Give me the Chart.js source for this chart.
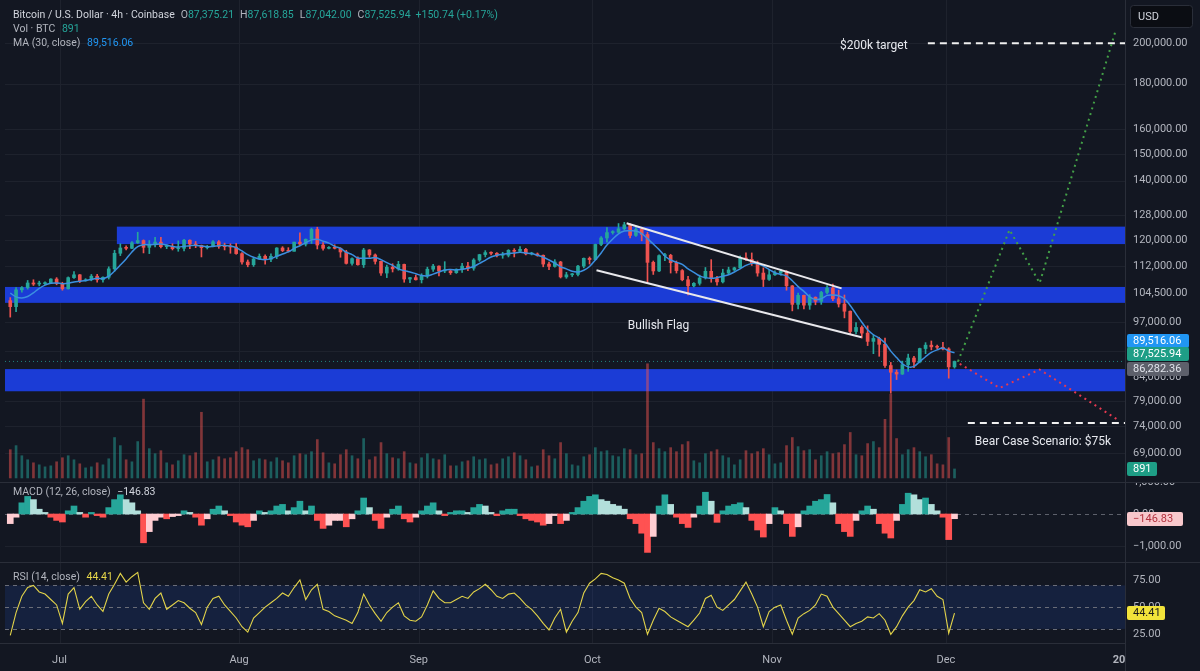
<!DOCTYPE html>
<html>
<head>
<meta charset="utf-8">
<script src="https://cdn.jsdelivr.net/npm/chart.js@4.4.1/dist/chart.umd.min.js"></script>
<style>
  html, body { margin:0; padding:0; background:#131722; }
  body { width:1200px; height:671px; position:relative; overflow:hidden; font-family: Roboto, "Noto Sans", Arial, sans-serif; }
  canvas { position:absolute; left:0; }
  .txt { position:absolute; white-space:nowrap; font-size:10.5px; color:#b2b5be; line-height:12px; }
  .w { color:#d1d4dc; }
  .k { margin-left:6px; }
  .g { color:#26a69a; }
  .b { color:#2196f3; }
  .y { color:#e8d84a; }
  .sep { position:absolute; background:#2a2e39; }
</style>
</head>
<body>
<canvas id="main" width="1200" height="482" style="top:0"></canvas>
<canvas id="macd" width="1200" height="79" style="top:483px"></canvas>
<canvas id="rsi" width="1200" height="108" style="top:563px"></canvas>
<div class="sep" style="left:0;top:482px;width:1200px;height:1px"></div>
<div class="sep" style="left:0;top:562px;width:1200px;height:1px"></div>
<div class="sep" style="left:0;top:643px;width:1126px;height:1px"></div>
<div class="sep" style="left:1125px;top:0;width:1px;height:671px"></div>

<div class="txt" style="left:13px;top:9px"><span class="w">Bitcoin / U.S. Dollar · 4h · Coinbase</span><span class="k">O</span><span class="g">87,375.21</span><span class="k">H</span><span class="g">87,618.85</span><span class="k">L</span><span class="g">87,042.00</span><span class="k">C</span><span class="g">87,525.94</span><span class="g" style="margin-left:5px">+150.74 (+0.17%)</span></div>
<div class="txt" style="left:13px;top:23px">Vol · BTC <span class="g" style="margin-left:4px">891</span></div>
<div class="txt" style="left:13px;top:37px">MA (30, close) <span class="b" style="margin-left:4px">89,516.06</span></div>
<div class="txt" style="left:13px;top:486px">MACD (12, 26, close) <span class="w" style="margin-left:4px">−146.83</span></div>
<div class="txt" style="left:13px;top:571px">RSI (14, close) <span class="y" style="margin-left:4px">44.41</span></div>

<script>
// ---------------- DATA ----------------
const startDay = -9;          // first candle: Jun 22 (day 0 = Jul 1)
const firstOpenK = 102.5;     // open of first candle (thousand USD)

// daily closes, thousand USD (Jun 22 .. Dec 2)
const closesK = [
100.9,105.4,106.0,107.3,107.0,107.1,107.3,108.4,107.1,
105.7,108.8,109.6,107.9,108.2,109.2,108.2,108.9,111.3,115.9,
117.5,117.4,119.1,119.8,117.7,118.7,119.3,117.9,117.9,117.3,
117.4,119.9,118.7,118.3,117.6,117.9,119.4,118.0,117.9,117.8,115.8,
113.3,112.5,114.2,115.0,114.1,115.0,117.5,116.7,116.5,119.3,
118.7,120.2,123.3,118.4,117.4,117.5,117.4,116.3,112.9,114.3,
112.5,116.9,115.4,113.5,110.1,111.8,111.3,112.6,108.4,108.8,108.2,
109.2,111.2,112.1,110.7,110.7,110.2,111.2,112.1,111.5,113.9,
115.5,116.1,115.9,115.3,115.3,116.8,116.5,117.1,115.7,115.7,
115.3,112.7,112.0,113.3,109.0,109.6,109.7,112.1,114.4,114.0,
118.6,120.6,122.3,122.4,123.5,124.8,121.4,123.3,121.7,113.2,
110.7,115.2,115.3,113.1,110.8,108.2,106.5,107.2,108.7,110.6,
108.5,107.6,110.1,111.0,111.6,114.5,114.1,112.9,110.1,108.3,109.6,
110.1,110.6,106.5,101.5,103.9,101.3,103.4,102.3,104.7,105.9,
103.0,101.6,99.7,94.6,95.6,94.2,92.2,92.9,91.5,86.6,
85.1,84.7,86.8,88.3,87.4,90.5,91.3,90.9,90.8,90.4,
86.3,87.52594
];

// daily highs, thousand USD
const highsK = [
103.3,106.0,106.3,108.0,108.2,107.8,107.6,108.5,108.8,
107.5,109.0,110.5,109.7,108.5,109.7,109.7,109.0,111.9,116.8,
118.8,118.2,119.5,122.4,120.0,119.8,120.8,120.8,118.5,118.8,
119.7,120.2,120.0,119.5,118.4,118.3,119.8,119.8,119.0,118.8,118.9,
116.1,113.9,114.7,115.7,115.4,115.7,117.6,117.9,117.6,119.3,
122.2,120.3,123.7,124.0,119.2,117.9,118.5,117.6,116.8,114.5,
114.8,117.4,117.0,115.7,113.6,112.4,112.8,113.5,112.7,108.9,109.5,
109.9,111.8,112.6,112.2,113.4,111.0,111.3,112.9,113.2,114.3,
115.6,116.7,116.3,116.1,116.2,117.0,117.3,117.9,117.4,116.2,
116.0,115.4,113.3,114.0,113.5,110.3,110.0,112.3,114.5,114.8,
118.7,121.0,123.9,122.9,125.2,125.6,125.1,124.2,123.7,122.4,
113.6,115.4,115.9,115.6,113.6,111.1,109.2,107.4,109.5,111.7,
114.0,109.2,111.2,111.8,111.8,115.1,116.0,116.0,113.6,111.6,111.2,
110.7,111.2,110.8,106.6,104.5,104.0,104.1,103.5,105.0,106.6,
107.0,105.3,104.0,99.8,96.8,96.0,96.0,93.8,93.2,93.0,
87.3,85.6,87.6,89.2,88.7,90.6,91.9,92.3,91.3,92.0,
90.7,87.62
];

// daily lows, thousand USD
const lowsK = [
98.2,99.6,104.8,105.6,106.6,106.5,106.8,107.2,106.8,
105.3,105.6,108.6,107.4,107.8,107.9,107.5,107.5,108.4,110.6,
115.2,116.9,117.3,118.9,116.0,115.8,117.8,117.5,117.3,116.9,
116.5,116.6,117.3,117.6,114.8,117.2,117.8,117.4,116.9,115.9,115.6,
112.7,111.9,112.0,114.0,112.7,113.4,114.3,116.4,116.3,116.5,
118.3,118.1,118.9,117.2,116.8,117.2,117.2,114.7,112.7,112.4,
112.4,111.7,114.7,112.7,109.4,108.8,110.4,110.9,107.5,107.4,108.1,
107.3,108.7,110.6,109.3,110.2,109.7,110.0,110.3,110.8,110.9,
113.5,114.8,115.4,114.8,114.4,114.8,114.8,116.1,115.4,115.4,
115.0,111.9,111.1,111.8,108.7,108.6,109.1,109.3,111.6,112.7,
113.9,118.2,119.3,121.8,122.2,123.1,120.6,121.1,119.7,107.4,
109.7,110.5,113.7,110.1,110.1,107.9,104.0,106.2,106.7,108.4,
107.5,106.7,107.3,109.7,110.8,111.5,113.8,112.3,109.2,106.3,108.0,
109.4,109.5,105.3,99.8,100.3,100.3,100.2,101.4,101.5,104.3,
102.5,100.8,98.0,94.0,94.0,93.0,91.2,89.3,88.7,86.2,
80.6,83.5,84.6,85.3,86.1,87.2,89.3,90.2,90.4,90.2,
83.8,86.0
];

// MA(30, close) line, thousand USD
const maK = [
104.5,103.5,103.2,103.6,104.6,105.8,106.7,107.2,107.3,
107.1,107.2,107.6,107.8,108.0,108.3,108.6,108.5,109.2,110.7,
112.4,114.2,116.3,117.9,118.5,118.5,118.6,118.7,118.4,118.0,
117.8,118.0,118.2,118.3,118.1,117.9,118.0,118.2,118.3,118.1,117.6,
116.6,115.5,114.7,114.2,114.0,114.3,115.0,115.7,116.3,117.4,
118.2,119.1,120.0,120.2,119.6,119.0,118.0,117.4,116.2,115.5,
114.5,114.4,114.4,114.6,114.0,113.1,112.3,111.3,110.8,110.4,109.9,
109.4,109.3,109.8,110.4,111.0,111.1,111.0,111.2,111.5,112.0,
112.9,113.8,114.8,115.3,115.6,115.8,116.0,116.2,116.0,115.8,
115.3,114.7,113.9,113.0,111.9,111.3,110.6,110.4,110.9,112.0,
113.9,116.0,118.4,120.3,121.9,122.8,122.9,122.8,122.0,120.4,
118.7,117.0,115.1,113.9,113.2,112.6,111.3,110.3,109.3,108.8,
108.6,108.8,109.2,109.6,110.4,111.3,112.3,112.9,112.8,112.1,111.1,
110.2,109.7,109.3,107.9,106.3,105.0,103.5,102.8,103.0,103.9,
104.0,103.8,103.0,101.2,99.0,96.9,95.0,93.8,93.0,91.8,
89.9,88.4,87.0,86.3,86.4,87.5,88.6,89.6,90.2,90.6,
89.9,89.51606
];

// volume (BTC)
const volumes = [
2800,3200,2200,1800,1500,1300,1100,1200,1600,
2000,2200,1800,1400,1000,1100,1500,1300,1900,4000,
3200,1800,1600,3600,7800,2900,2400,2700,1500,1300,
1700,2300,2200,2500,6500,1600,1800,2100,1900,2000,2600,
3000,2800,1700,1900,1800,1600,2000,1700,1500,2200,
2400,2300,2600,3800,2500,1500,1400,2300,2800,2200,
1900,3900,1800,2100,3500,2400,2000,1900,2600,1500,1400,
2000,2400,1900,1800,2300,1200,1200,1600,1700,2100,
1800,1900,1300,1400,1900,2100,2500,2200,1800,1100,
1200,2800,2200,1900,3500,2400,1300,1200,2100,2300,
3000,2600,2700,2200,2100,2900,2800,2300,2400,11300,
3500,2900,2600,3000,2600,3300,3600,1700,1500,2400,
2600,2800,2200,2000,1300,1800,2700,2400,2600,2900,2300,
1400,1500,3200,4000,3100,2700,2800,1800,2200,2600,
2400,2500,3300,4500,2300,2200,3400,3600,3000,5800,
8300,3900,2300,2800,3000,2600,2100,2300,1400,1300,
4000,891
];

// MACD histogram
const macdHist = [
-300,-100,350,550,450,150,50,-100,-200,
-250,100,250,50,-100,50,-50,-100,200,450,
600,450,350,100,-900,-550,-200,-100,-150,-80,
-50,100,50,-100,-350,-150,150,250,100,-50,-250,
-350,-400,-200,100,50,100,250,300,100,200,
400,100,250,-200,-450,-350,-200,-200,-400,-150,
100,500,200,-200,-450,-100,150,250,-150,-250,-100,
100,250,350,100,-50,50,100,100,50,200,
300,250,50,-50,100,150,150,-50,-150,-200,
-250,-350,-300,-50,-300,-200,50,200,400,550,
600,450,400,300,250,150,-150,-300,-600,-1200,
-700,250,600,300,-100,-300,-420,-100,250,680,
400,-260,100,250,300,350,200,-200,-500,-720,-300,
200,100,-300,-700,-400,100,250,400,450,610,
350,-300,-550,-700,-200,100,250,150,-300,-600,
-750,-200,300,650,600,450,500,300,100,-100,
-800,-146.83
];

// RSI(14)
const rsiValues = [
24,45,60,68,70,64,62,57,52,
35,62,68,48,55,60,52,46,62,71,
81,73,78,82,54,48,58,63,48,52,
56,54,49,45,34,50,58,60,52,46,40,
32,27,40,45,50,54,58,63,60,68,
75,57,66,71,48,46,42,40,38,35,
45,62,52,44,37,45,50,54,42,38,37,
41,52,65,58,54,54,57,60,58,64,
67,71,66,60,58,62,63,58,52,48,
42,35,29,40,48,27,37,45,63,72,
76,81,80,77,75,72,58,50,45,25,
38,49,46,41,38,35,32,38,44.6,58,
61,50,47,52,57,65,73,62,50,32,46,
50,52,38,25,40,44,47,52,62,60,
50,44,38,32,35,37,41,40,44,38,
25,32,42,50,56,66,64,67,60,57,
26,44.41
];

// axis ticks
const monthDays   = [0,31,62,92,123,153,184];
const monthLabels = ['Jul','Aug','Sep','Oct','Nov','Dec','20'];
const priceTicks  = [69000,74000,79000,84000,90000,97000,104500,112000,120000,128000,140000,150000,160000,180000,200000];
const macdTicks   = [1000,0,-1000];
const rsiTicks    = [75,50,25];

// drawn levels / annotations (thousand USD, days)
const zones = [
  {lowK:118.7, highK:124.2, fromDay:9.9},
  {lowK:101.9, highK:106.2, fromDay:null},
  {lowK:81.0,  highK:85.8,  fromDay:null}
];
const flagUpperDays = [97.9, 135.0],  flagUpperK = [125.3, 105.8];
const flagLowerDays = [92.7, 138.45], flagLowerK = [110.9, 93.2];
const bullPathDays  = [155.1, 164.0, 169.2, 182.2], bullPathK = [87.5, 123.2, 107.3, 205.5];
const bearPathDays  = [155.4, 162.3, 169.2, 182.7], bearPathK = [87.0, 81.7, 85.7, 75.2];
const targetK = 200, targetFromDay = 149.9;
const bearK = 74.6, bearFromDay = 156.8;
const lastPrice = 87525.94, maLast = 89516.06, refLevel = 86282.36;
const lastVolume = 891, lastMacd = -146.83, lastRsi = 44.41;

// ---------------- BUILD ----------------
const X_MIN = -9.41, X_MAX = 183.93;
const UP = '#26a69a', DOWN = '#ef5350';
const days = closesK.map((_, i) => startDay + i);
const opensK = closesK.map((c, i) => i === 0 ? firstOpenK : closesK[i - 1]);
const isUp = i => closesK[i] >= opensK[i];
const toPts = (ds, vs, k) => ds.map((d, i) => ({x: d, y: vs[i] * k}));

Chart.defaults.font.family = 'Roboto, "Noto Sans", Arial, sans-serif';
const fmt = v => (v < 0 ? '−' : '') + Math.abs(v).toLocaleString('en-US', {minimumFractionDigits:2, maximumFractionDigits:2});

function xScale() { return {type:'linear', min:X_MIN, max:X_MAX, display:false, offset:false}; }
const baseOpts = {
  responsive:false, animation:false, events:[], devicePixelRatio:1,
  layout:{padding:{left:5, right:75, top:0, bottom:0}},
  plugins:{legend:{display:false}, tooltip:{enabled:false}}
};

function hLine(ctx, x0, x1, y) { ctx.beginPath(); ctx.moveTo(x0, y); ctx.lineTo(x1, y); ctx.stroke(); }
function vLine(ctx, x, y0, y1) { ctx.beginPath(); ctx.moveTo(x, y0); ctx.lineTo(x, y1); ctx.stroke(); }
function monthGrid(chart) {
  const {ctx, chartArea:a, scales:{x}} = chart;
  ctx.strokeStyle = '#1e222d'; ctx.lineWidth = 1;
  monthDays.forEach(d => { const px = Math.round(x.getPixelForValue(d)) + 0.5; if (px < a.right) vLine(ctx, px, a.top, a.bottom); });
}
function axisLabel(ctx, a, py, text) {
  ctx.fillStyle = '#b2b5be'; ctx.font = '11px Roboto, "Noto Sans", sans-serif';
  ctx.textAlign = 'left'; ctx.textBaseline = 'middle';
  ctx.fillText(text, a.right + 8, py);
}
function tagBox(ctx, a, yc, text, bg, fg, w) {
  ctx.fillStyle = bg; ctx.beginPath();
  ctx.roundRect(a.right + 2, Math.round(yc) - 7, w, 14, 2); ctx.fill();
  ctx.fillStyle = fg; ctx.font = '11px Roboto, "Noto Sans", sans-serif';
  ctx.textAlign = 'left'; ctx.textBaseline = 'middle';
  ctx.fillText(text, a.right + 8, Math.round(yc) + 0.5);
}

// ---------- MAIN PANE ----------
const mainDeco = {
  id:'mainDeco',
  beforeDatasetsDraw(chart) {
    const {ctx, chartArea:a, scales:{x, y}} = chart;
    ctx.save();
    ctx.strokeStyle = '#1e222d'; ctx.lineWidth = 1;
    priceTicks.forEach(v => hLine(ctx, a.left, a.right, Math.round(y.getPixelForValue(v)) + 0.5));
    monthGrid(chart);
    ctx.fillStyle = '#1b3cd6';
    zones.forEach(z => {
      const x0 = z.fromDay === null ? a.left : x.getPixelForValue(z.fromDay);
      const y0 = y.getPixelForValue(z.highK * 1000), y1 = y.getPixelForValue(z.lowK * 1000);
      ctx.fillRect(x0, y0, a.right - x0, y1 - y0);
    });
    ctx.restore();
  },
  afterDraw(chart) {
    const {ctx, chartArea:a, scales:{x, y, yVol}} = chart;
    ctx.save();
    priceTicks.forEach(v => axisLabel(ctx, a, y.getPixelForValue(v), fmt(v)));
    // price tags
    tagBox(ctx, a, y.getPixelForValue(maLast) - 12, fmt(maLast), '#2196f3', '#ffffff', 62);
    tagBox(ctx, a, y.getPixelForValue(lastPrice) - 7, fmt(lastPrice), '#1e9e86', '#ffffff', 62);
    tagBox(ctx, a, y.getPixelForValue(refLevel) + 2, fmt(refLevel), '#5d606b', '#e0e3eb', 62);
    tagBox(ctx, a, yVol.getPixelForValue(lastVolume), String(lastVolume), '#1e9e86', '#ffffff', 30);
    // annotations
    ctx.fillStyle = '#e6e8ee'; ctx.font = '12px Roboto, "Noto Sans", sans-serif'; ctx.textBaseline = 'middle';
    ctx.textAlign = 'right';
    ctx.fillText('$200k target', x.getPixelForValue(146.4), y.getPixelForValue(targetK * 1000) + 3);
    ctx.textAlign = 'left';
    ctx.fillText('Bear Case Scenario: $75k', x.getPixelForValue(158.0), y.getPixelForValue(bearK * 1000) + 19);
    ctx.fillText('Bullish Flag', x.getPixelForValue(98.1), y.getPixelForValue(96000));
    // USD box
    ctx.fillStyle = '#0b0d13'; ctx.strokeStyle = '#2a2e39'; ctx.lineWidth = 1;
    ctx.beginPath(); ctx.roundRect(1130.5, 5.5, 62, 22, 3); ctx.fill(); ctx.stroke();
    ctx.fillStyle = '#d1d4dc'; ctx.font = '11px Roboto, "Noto Sans", sans-serif';
    ctx.textAlign = 'left'; ctx.fillText('USD', 1138, 17);
    ctx.restore();
  }
};

const candleBodies = days.map((d, i) => ({x: d + 0.5, y: [opensK[i] * 1000, closesK[i] * 1000]}));
const candleWicks = days.map((d, i) => ({x: d + 0.5, y: [lowsK[i] * 1000, highsK[i] * 1000]}));
const candleColor = c => isUp(c.dataIndex) ? UP : DOWN;

new Chart(document.getElementById('main'), {
  type:'bar',
  data:{datasets:[
    {type:'bar', yAxisID:'yVol', grouped:false, barThickness:2, order:20,
     data: days.map((d, i) => ({x: d + 0.5, y: volumes[i]})),
     backgroundColor: c => isUp(c.dataIndex) ? 'rgba(38,166,154,0.5)' : 'rgba(239,83,80,0.5)'},
    {type:'line', order:15, data:[{x:X_MIN, y:lastPrice}, {x:X_MAX, y:lastPrice}],
     borderColor:'rgba(38,166,154,0.75)', borderWidth:1, borderDash:[1,3], pointRadius:0},
    {type:'bar', grouped:false, barThickness:1, order:10, data:candleWicks, backgroundColor:candleColor},
    {type:'bar', grouped:false, barThickness:3, minBarLength:1, order:9, data:candleBodies, backgroundColor:candleColor},
    {type:'line', order:8, data: days.map((d, i) => ({x: d + 0.5, y: maK[i] * 1000})),
     borderColor:'#3b8fe0', borderWidth:1.5, pointRadius:0, tension:0.35},
    {type:'line', order:5, data: toPts(flagUpperDays, flagUpperK, 1000), borderColor:'#e8e8ec', borderWidth:2, pointRadius:0},
    {type:'line', order:5, data: toPts(flagLowerDays, flagLowerK, 1000), borderColor:'#e8e8ec', borderWidth:2, pointRadius:0},
    {type:'line', order:4, data: toPts(bullPathDays, bullPathK, 1000), borderColor:'#43a047', borderWidth:2, borderDash:[2,4], pointRadius:0},
    {type:'line', order:4, data: toPts(bearPathDays, bearPathK, 1000), borderColor:'#e53950', borderWidth:2, borderDash:[2,4], pointRadius:0},
    {type:'line', order:4, data:[{x:targetFromDay, y:targetK*1000}, {x:X_MAX, y:targetK*1000}], borderColor:'#f0f0f0', borderWidth:2, borderDash:[7,5], pointRadius:0},
    {type:'line', order:4, data:[{x:bearFromDay, y:bearK*1000}, {x:X_MAX, y:bearK*1000}], borderColor:'#f0f0f0', borderWidth:2, borderDash:[7,5], pointRadius:0}
  ]},
  options:Object.assign({}, baseOpts, {
    scales:{
      x: xScale(),
      y: {type:'logarithmic', min:64000, max:223700, display:false},
      yVol: {type:'linear', min:-400, max:47300, display:false}
    }
  }),
  plugins:[mainDeco]
});

// ---------- MACD PANE ----------
const macdColors = macdHist.map((v, i) => {
  const p = i === 0 ? v : macdHist[i - 1];
  if (v >= 0) return v >= p ? '#26a69a' : '#b2dfdb';
  return v < p ? '#ff5252' : '#ffcdd2';
});
const macdDeco = {
  id:'macdDeco',
  beforeDatasetsDraw(chart) {
    const {ctx, chartArea:a, scales:{y}} = chart;
    ctx.save();
    ctx.strokeStyle = '#1e222d'; ctx.lineWidth = 1;
    [1000, -1000].forEach(v => hLine(ctx, a.left, a.right, Math.round(y.getPixelForValue(v)) + 0.5));
    monthGrid(chart);
    ctx.strokeStyle = '#5d606b'; ctx.setLineDash([4, 4]);
    hLine(ctx, a.left, a.right, Math.round(y.getPixelForValue(0)) + 0.5);
    ctx.restore();
  },
  afterDraw(chart) {
    const {ctx, chartArea:a, scales:{y}} = chart;
    ctx.save();
    macdTicks.forEach(v => axisLabel(ctx, a, y.getPixelForValue(v), fmt(v)));
    tagBox(ctx, a, y.getPixelForValue(lastMacd), fmt(lastMacd), '#f8c8cc', '#b3323f', 56);
    ctx.restore();
  }
};
new Chart(document.getElementById('macd'), {
  type:'bar',
  data:{datasets:[{type:'bar', grouped:false, barThickness:6,
    data: days.map((d, i) => ({x: d + 0.5, y: macdHist[i]})), backgroundColor: macdColors}]},
  options:Object.assign({}, baseOpts, {
    scales:{x: xScale(), y:{type:'linear', min:-1500, max:969, display:false}}
  }),
  plugins:[macdDeco]
});

// ---------- RSI PANE ----------
const rsiDeco = {
  id:'rsiDeco',
  beforeDatasetsDraw(chart) {
    const {ctx, chartArea:a, scales:{y}} = chart;
    ctx.save();
    monthGrid(chart);
    const y70 = y.getPixelForValue(70), y30 = y.getPixelForValue(30);
    ctx.fillStyle = 'rgba(41,98,255,0.13)';
    ctx.fillRect(a.left, y70, a.right - a.left, y30 - y70);
    ctx.strokeStyle = '#6a6d78'; ctx.lineWidth = 1; ctx.setLineDash([4, 4]);
    [70, 50, 30].forEach(v => hLine(ctx, a.left, a.right, Math.round(y.getPixelForValue(v)) + 0.5));
    ctx.restore();
  },
  afterDraw(chart) {
    const {ctx, chartArea:a, scales:{x, y}} = chart;
    ctx.save();
    rsiTicks.forEach(v => axisLabel(ctx, a, y.getPixelForValue(v), fmt(v)));
    tagBox(ctx, a, y.getPixelForValue(lastRsi), fmt(lastRsi), '#f2e33a', '#1a1a1a', 38);
    // time axis labels
    ctx.fillStyle = '#b2b5be'; ctx.textBaseline = 'middle';
    monthDays.forEach((d, i) => {
      const px = x.getPixelForValue(d);
      if (i === monthDays.length - 1) {
        ctx.font = 'bold 11px Roboto, "Noto Sans", sans-serif'; ctx.textAlign = 'right';
        ctx.fillText(monthLabels[i], px, a.bottom + 17);
      } else {
        ctx.font = '11px Roboto, "Noto Sans", sans-serif'; ctx.textAlign = 'center';
        ctx.fillText(monthLabels[i], px, a.bottom + 17);
      }
    });
    ctx.restore();
  }
};
new Chart(document.getElementById('rsi'), {
  type:'line',
  data:{datasets:[{data: days.map((d, i) => ({x: d + 0.5, y: rsiValues[i]})),
    borderColor:'#e3d44a', borderWidth:1.1, pointRadius:0, tension:0}]},
  options:Object.assign({}, baseOpts, {
    layout:{padding:{left:5, right:75, top:0, bottom:28}},
    scales:{x: xScale(), y:{type:'linear', min:17, max:90.6, display:false}}
  }),
  plugins:[rsiDeco]
});
</script>
</body>
</html>
